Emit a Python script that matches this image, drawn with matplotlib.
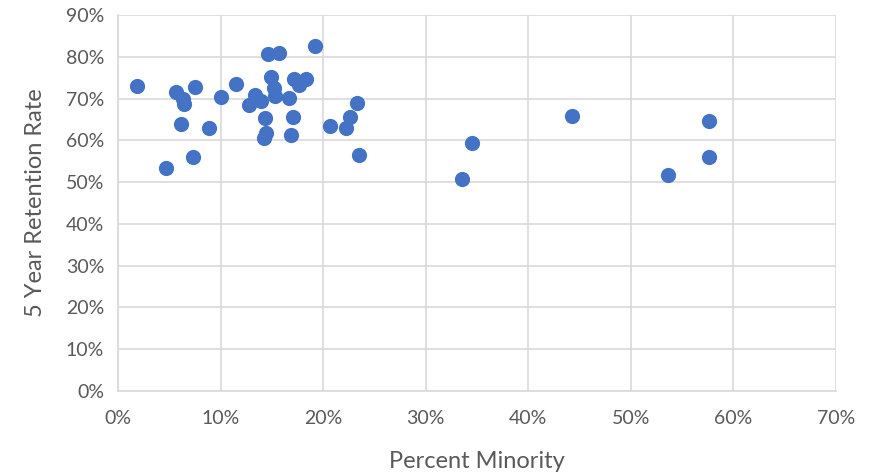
import matplotlib
matplotlib.use("Agg")
import matplotlib.pyplot as plt
from matplotlib.ticker import PercentFormatter, MultipleLocator

plt.rcParams['font.family'] = ['Lato', 'DejaVu Sans']

# Percent minority (%), 5-year retention rate (%)
pct_minority = [1.9, 4.7, 5.7, 7.5, 6.3, 6.4, 6.1, 7.3, 8.9, 10.0,
                11.5, 12.8, 13.4, 13.9, 14.3, 14.4, 14.2, 14.6, 15.7, 14.9,
                15.2, 15.3, 16.7, 17.1, 16.9, 17.2, 17.6, 18.3, 19.2, 20.7,
                22.2, 22.6, 23.3, 23.5, 33.5, 34.5, 44.3, 53.6, 57.6, 57.6]
retention = [73.1, 53.4, 71.6, 72.8, 70.0, 68.8, 63.9, 56.0, 63.0, 70.4,
             73.6, 68.5, 71.0, 69.5, 65.4, 61.9, 60.7, 80.7, 81.0, 75.3,
             72.6, 70.6, 70.1, 65.6, 61.4, 74.8, 73.4, 74.8, 82.6, 63.5,
             63.0, 65.6, 68.9, 56.6, 50.7, 59.4, 65.8, 51.8, 64.6, 56.1]

x_label = "Percent Minority"
y_label = "5 Year Retention Rate"

fig = plt.figure(figsize=(8.69, 4.75), dpi=100)
ax = fig.add_axes([0.1358, 0.177, 0.8262, 0.791])

ax.scatter(pct_minority, retention, s=120, color="#4472C4", zorder=3, linewidths=0)

ax.set_xlim(0, 70)
ax.set_ylim(0, 90)
ax.xaxis.set_major_locator(MultipleLocator(10))
ax.yaxis.set_major_locator(MultipleLocator(10))
ax.xaxis.set_major_formatter(PercentFormatter(decimals=0))
ax.yaxis.set_major_formatter(PercentFormatter(decimals=0))

ax.grid(True, color="#D9D9D9", linewidth=1.2, zorder=0)
for s in ["top", "right"]:
    ax.spines[s].set_visible(False)
for s in ["left", "bottom"]:
    ax.spines[s].set_color("#D9D9D9")
    ax.spines[s].set_linewidth(1.2)

ax.tick_params(axis='x', length=0, labelsize=14, labelcolor="#595959", pad=14)
ax.tick_params(axis='y', length=0, labelsize=14, labelcolor="#595959", pad=10)
ax.set_xlabel(x_label, fontsize=17, color="#595959", labelpad=17)
ax.set_ylabel(y_label, fontsize=17, color="#595959", labelpad=14)

fig.savefig("out.png", dpi=100)
